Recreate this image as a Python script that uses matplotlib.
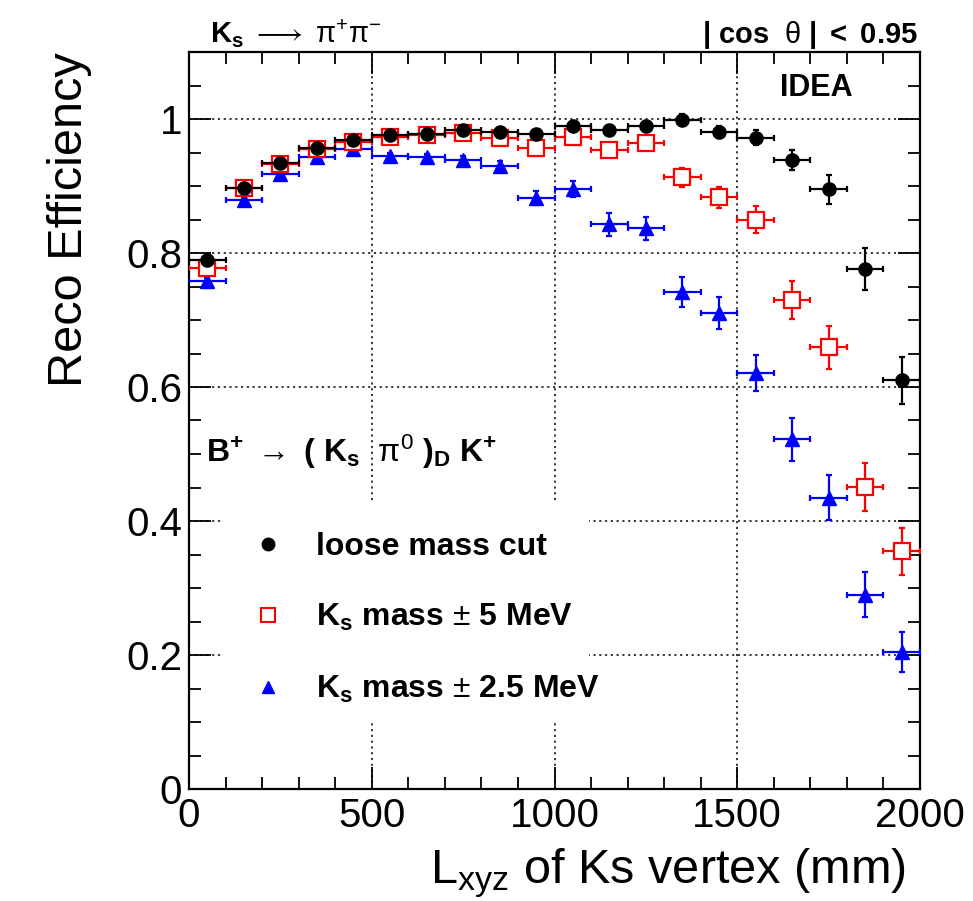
import matplotlib
matplotlib.use("Agg")
import matplotlib.pyplot as plt
from matplotlib.lines import Line2D
from matplotlib.patches import Rectangle
from matplotlib.ticker import MultipleLocator, FixedLocator, FixedFormatter

plt.rcParams['font.family'] = ['Liberation Sans', 'DejaVu Sans']
plt.rcParams['mathtext.fontset'] = 'custom'
plt.rcParams['mathtext.rm'] = 'Liberation Sans'
plt.rcParams['mathtext.it'] = 'Liberation Sans:italic'
plt.rcParams['mathtext.bf'] = 'Liberation Sans:bold'
plt.rcParams['mathtext.sf'] = 'Liberation Sans'

# ---- data ----
bin_centers = [50, 150, 250, 350, 450, 550, 650, 750, 850, 950,
               1050, 1150, 1250, 1350, 1450, 1550, 1650, 1750, 1850, 1950]
bin_halfwidth = [50] * 20

eff_loose = [0.790, 0.897, 0.934, 0.956, 0.968, 0.976, 0.978, 0.983, 0.981, 0.978,
             0.990, 0.984, 0.990, 0.999, 0.980, 0.972, 0.939, 0.895, 0.776, 0.610]
err_loose = [0.004, 0.003, 0.003, 0.003, 0.003, 0.003, 0.003, 0.003, 0.004, 0.004,
             0.005, 0.006, 0.007, 0.008, 0.009, 0.011, 0.015, 0.022, 0.031, 0.035]

eff_5mev = [0.778, 0.897, 0.933, 0.955, 0.966, 0.973, 0.976, 0.979, 0.972, 0.956,
            0.973, 0.954, 0.964, 0.913, 0.883, 0.850, 0.730, 0.659, 0.451, 0.355]
err_5mev = [0.005, 0.004, 0.004, 0.004, 0.004, 0.004, 0.004, 0.005, 0.005, 0.006,
            0.007, 0.008, 0.009, 0.014, 0.016, 0.020, 0.028, 0.032, 0.036, 0.035]

eff_25mev = [0.758, 0.879, 0.918, 0.943, 0.955, 0.945, 0.943, 0.939, 0.930, 0.882,
             0.895, 0.843, 0.837, 0.742, 0.711, 0.621, 0.522, 0.435, 0.290, 0.205]
err_25mev = [0.005, 0.005, 0.005, 0.005, 0.005, 0.005, 0.005, 0.006, 0.007, 0.010,
             0.012, 0.017, 0.017, 0.022, 0.024, 0.027, 0.032, 0.034, 0.034, 0.030]

legend_labels = ["loose mass cut",
                 r"K$_{\mathbf{s}}$ mass $\pm$ 5 MeV",
                 r"K$_{\mathbf{s}}$ mass $\pm$ 2.5 MeV"]
ytick_values = [0, 0.2, 0.4, 0.6, 0.8, 1.0]
ytick_labels = ["0", "0.2", "0.4", "0.6", "0.8", "1"]
xtick_values = [0, 500, 1000, 1500, 2000]
xtick_labels = ["0", "500", "1000", "1500", "2000"]

# ---- figure ----
fig = plt.figure(figsize=(9.73, 9.01), dpi=100)
ax = fig.add_axes([189/973, 1 - 789/901, 731/973, 737/901])
ax.set_xlim(0, 2000)
ax.set_ylim(0, 1.1)

# grid
ax.set_axisbelow(True)
ax.grid(True, which='major', color='#2a2a2a', linestyle=(0, (1.2, 2.0)), linewidth=1.3)

# white box behind legend (hides grid like ROOT TLegend)
ax.add_patch(Rectangle((0.047, 0.094), 0.50, 0.294, transform=ax.transAxes,
                       facecolor='white', edgecolor='none', zorder=1.5))

common = dict(linestyle='none', elinewidth=1.6, capsize=2.5, capthick=1.6)
ax.errorbar(bin_centers, eff_25mev, yerr=err_25mev, xerr=bin_halfwidth,
            fmt='^', color='blue', markersize=9.5, zorder=3, **common)
ax.errorbar(bin_centers, eff_5mev, yerr=err_5mev, xerr=bin_halfwidth,
            fmt='s', color='red', markerfacecolor='white', markeredgecolor='red',
            markeredgewidth=1.6, markersize=11, zorder=4, **common)
ax.errorbar(bin_centers, eff_loose, yerr=err_loose, xerr=bin_halfwidth,
            fmt='o', color='black', markersize=9.5, zorder=5, **common)

# ticks
ax.xaxis.set_major_locator(FixedLocator(xtick_values))
ax.xaxis.set_major_formatter(FixedFormatter(xtick_labels))
ax.xaxis.set_minor_locator(MultipleLocator(100))
ax.yaxis.set_major_locator(FixedLocator(ytick_values))
ax.yaxis.set_major_formatter(FixedFormatter(ytick_labels))
ax.yaxis.set_minor_locator(MultipleLocator(0.05))
ax.tick_params(which='both', direction='in', top=True, right=True, width=1.3)
ax.tick_params(which='major', length=16, labelsize=29)
ax.tick_params(which='minor', length=8.5)
ax.tick_params(axis='x', which='major', pad=6)
ax.tick_params(axis='y', which='major', pad=5)
for s in ax.spines.values():
    s.set_linewidth(1.6)

ax.set_ylabel("Reco Efficiency", fontsize=35, loc='top')
ax.yaxis.set_label_coords(-0.133, 1.0)
ax.set_xlabel(r"L$_{\mathrm{xyz}}$ of Ks vertex (mm)", fontsize=35, loc='right')
ax.xaxis.set_label_coords(0.981, -0.078)

# legend
handles = [
    Line2D([], [], linestyle='none', marker='o', color='black', markersize=9),
    Line2D([], [], linestyle='none', marker='s', markerfacecolor='white',
           markeredgecolor='red', markeredgewidth=1.5, markersize=10),
    Line2D([], [], linestyle='none', marker='^', color='blue', markersize=9),
]
leg = ax.legend(handles, legend_labels, loc='upper left', bbox_to_anchor=(0.047, 0.388),
                frameon=False, prop={'weight': 'bold', 'size': 23},
                labelspacing=1.27, handlelength=1.0, handletextpad=1.0,
                borderpad=0.9, borderaxespad=0)
leg.set_zorder(6)

# annotations
fig.text(210/973, 1 - 43/901,
         r"$\mathbf{K_{s}}$ $\longrightarrow$ $\mathrm{\pi^{+}\pi^{-}}$",
         fontsize=21, fontweight='bold', ha='left', va='baseline')
fig.text(918/973, 1 - 43/901,
         r"$\mathbf{|\ cos}$  $\mathrm{\theta}$$\mathbf{\ |\ <\ 0.95}$",
         fontsize=21, fontweight='bold', ha='right', va='baseline')
ax.text(0.858, 0.951, "IDEA", transform=ax.transAxes, fontsize=22,
        fontweight='bold', ha='center', va='center')
ax.text(0.023, 0.444,
        r"$\mathbf{B^{+}}$ $\rightarrow$ $\mathbf{(\ K_{s}}$  $\mathrm{\pi^{0}}$$\mathbf{\ )_{D}\ K^{+}}$",
        transform=ax.transAxes, fontsize=23, ha='left', va='baseline')

fig.savefig("out.png", dpi=100)
